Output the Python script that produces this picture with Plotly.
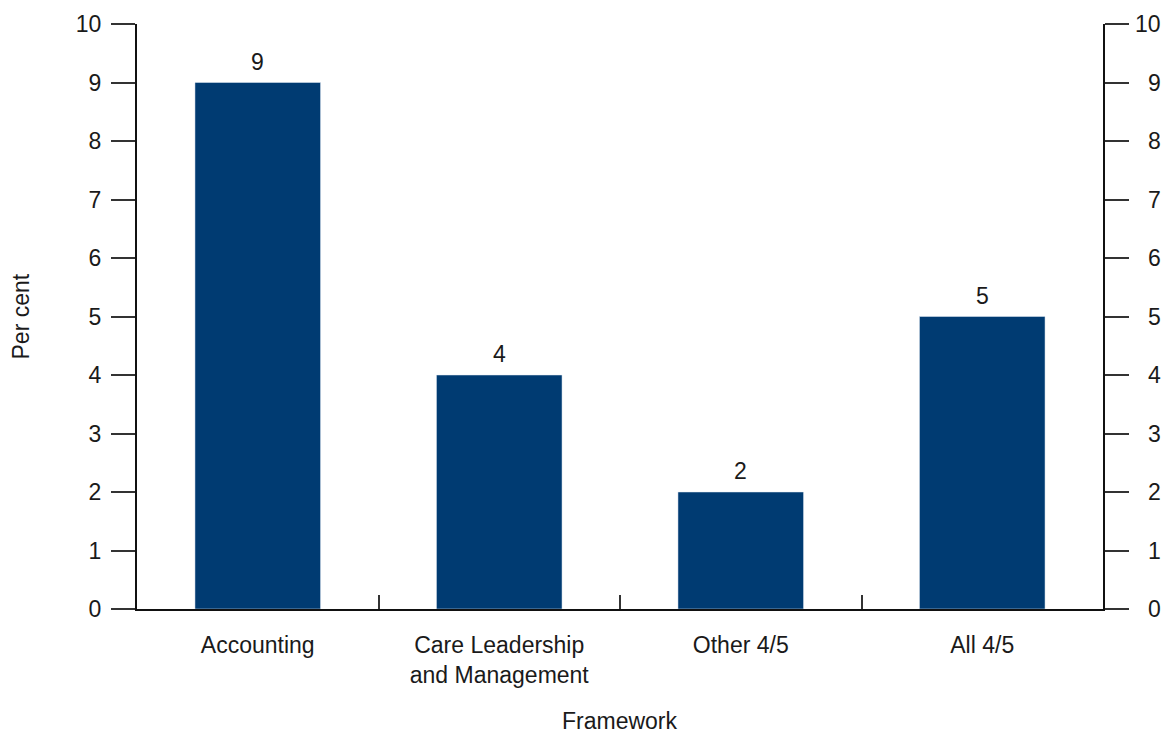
import plotly.graph_objects as go

categories = ["Accounting", "Care Leadership<br>and Management", "Other 4/5", "All 4/5"]
values = [9, 4, 2, 5]
y_ticks = list(range(0, 11))
x_title = "Framework"
y_title = "Per cent"

FONT = "Liberation Sans"
FS = 23
COL = "#1a1a1a"
BAR = "#003B72"

fig = go.Figure()
fig.add_trace(go.Bar(
    x=categories, y=values, marker_color=BAR, width=0.52,
    showlegend=False,
))
fig.add_trace(go.Scatter(x=categories, y=values, yaxis="y2", mode="markers",
                         marker=dict(opacity=0), showlegend=False, hoverinfo="skip"))

axis_common = dict(range=[0, 10], tickvals=y_ticks, ticks="outside", ticklen=24,
                   tickwidth=1.5, tickcolor="#333", showline=True, linecolor="#111",
                   linewidth=2, showgrid=False, zeroline=False, automargin=False,
                   tickfont=dict(size=FS, color=COL, family=FONT))

fig.update_layout(
    width=1165, height=733,
    margin=dict(l=137, r=62, t=24, b=124),
    plot_bgcolor="white", paper_bgcolor="white",
    font=dict(family=FONT, size=FS, color=COL),
    xaxis=dict(showline=True, linecolor="#111", linewidth=2, ticks="inside",
               tickson="boundaries", ticklen=14, tickwidth=1.5, tickcolor="#333",
               automargin=False, ticklabelstandoff=14,
               tickfont=dict(size=FS, color=COL, family=FONT)),
    yaxis=dict(**axis_common, ticklabelstandoff=5),
    yaxis2=dict(**axis_common, overlaying="y", side="right", showticklabels=False),
)

# value labels above bars
for c, v in zip(categories, values):
    fig.add_annotation(x=c, y=v, xref="x", yref="y", text=str(v), showarrow=False,
                       yanchor="bottom", yshift=6, font=dict(size=FS, color=COL, family=FONT))

# right-hand tick labels, right aligned
for t in y_ticks:
    fig.add_annotation(x=1, xref="paper", y=t, yref="y", text=str(t), showarrow=False,
                       xanchor="right", xshift=60, font=dict(size=FS, color=COL, family=FONT))

fig.add_annotation(x=0.5, xref="paper", y=0, yref="paper", text=x_title, showarrow=False,
                   yanchor="middle", yshift=-112, font=dict(size=FS, color=COL, family=FONT))
fig.add_annotation(x=0, xref="paper", y=0.5, yref="paper", text=y_title, showarrow=False,
                   textangle=-90, xanchor="center", xshift=-117,
                   font=dict(size=FS, color=COL, family=FONT))

fig.write_html("out.html", config={"displayModeBar": False},
               post_script="document.body.style.margin='0';document.body.style.overflow='hidden';")
